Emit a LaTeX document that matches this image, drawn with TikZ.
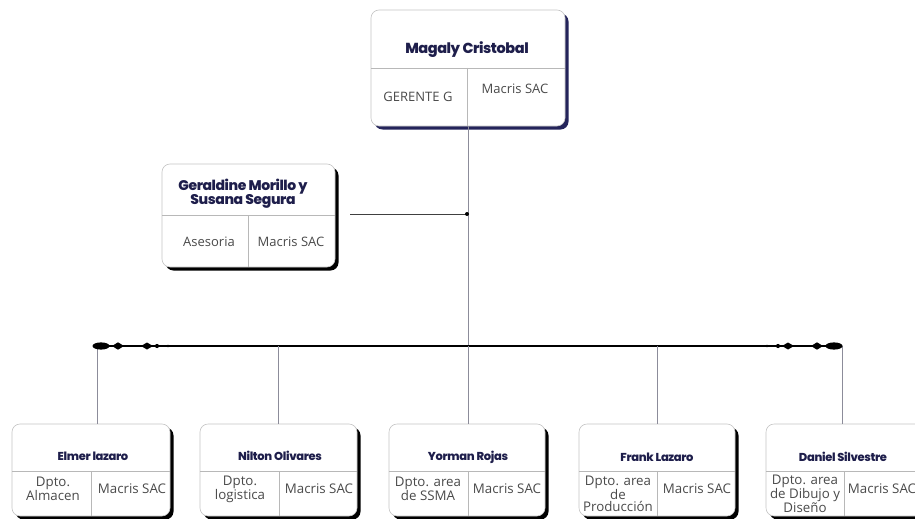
\documentclass[tikz,border=0pt]{standalone}
\usepackage{fontspec}
\usetikzlibrary{shadows,shapes.geometric}
\newfontfamily\titlefont{Poppins}[BoldFont={Poppins ExtraBold}, LetterSpace=-3]
\newfontfamily\subfont{Open Sans}
\definecolor{navy}{HTML}{1E1E4B}
\definecolor{navyshadow}{HTML}{24245A}
\definecolor{subtxt}{HTML}{4A4A4A}
\definecolor{boxline}{HTML}{C4C4C4}
\definecolor{divc}{HTML}{B8B8B8}
\definecolor{connc}{HTML}{8C8C9A}
\tikzset{
  obox/.style={draw=boxline, line width=0.6pt, rounded corners=8pt, fill=white,
    inner sep=0pt, outer sep=0pt, anchor=north west,
    drop shadow={shadow xshift=3.5pt, shadow yshift=-3.5pt, fill=#1, opacity=1}},
  obox/.default=black,
  divl/.style={draw=divc, line width=0.6pt},
  ttl/.style={text=navy, inner sep=0pt, align=center, font={\titlefont\bfseries\fontsize{#1}{#1}\selectfont}},
  ttl/.default=11.5,
  sub/.style={text=subtxt, inner sep=0pt, align=center, font={\subfont\fontsize{13.3}{12.3}\selectfont}},
  subbig/.style={text=subtxt, inner sep=0pt, align=center, font={\subfont\fontsize{13}{13}\selectfont}},
  conn/.style={draw=connc, line width=0.8pt},
  bus/.style={draw=black, line width=1.3pt},
  orn/.style={fill=black, draw=none},
}
\begin{document}
\begin{tikzpicture}[x=1pt,y=-1pt]
\useasboundingbox (0,0) rectangle (915,519);
% ---------- top box
\node[obox=navyshadow, minimum width=194pt, minimum height=116pt] (top) at (371,10) {};
\draw[divl] (top.west |- 0,68) -- (top.east |- 0,68);
\draw[divl] (467,68) -- (467,126);
\node[ttl=14.5] (topt) at (467,50) {Magaly Cristobal};
\node[subbig] (topl) at (418,97) {GERENTE G};
\node[subbig] (topr) at (515,89) {Macris SAC};
% ---------- Geraldine box
\node[obox, minimum width=173pt, minimum height=103pt] (ger) at (162,164) {};
\draw[divl] (ger.west |- 0,215) -- (ger.east |- 0,215);
\draw[divl] (248,215) -- (248,267);
\node[ttl=14] (gert) at (243,194) {Geraldine Morillo y\\[0pt]Susana Segura};
\node[subbig] (gerl) at (209,242) {Asesoria};
\node[subbig] (gerr) at (291,242) {Macris SAC};
% ---------- bottom boxes
\node[obox, minimum width=158pt, minimum height=92pt] (b1) at (12,424) {};
\node[obox, minimum width=157pt, minimum height=92pt] (b2) at (200,424) {};
\node[obox, minimum width=156pt, minimum height=92pt] (b3) at (389,424) {};
\node[obox, minimum width=156pt, minimum height=92pt] (b4) at (579,424) {};
\node[obox, minimum width=157pt, minimum height=92pt] (b5) at (766,424) {};
\foreach \b/\d in {b1/91,b2/279,b3/468,b4/657,b5/844}{
  \draw[divl] (\b.west |- 0,471) -- (\b.east |- 0,471);
  \draw[divl] (\d,471) -- (\d,516);
}
\node[ttl] (t1) at (93,456) {Elmer lazaro};
\node[ttl] (t2) at (280,456) {Nilton Olivares};
\node[ttl] (t3) at (468,457) {Yorman Rojas};
\node[ttl] (t4) at (657,457) {Frank Lazaro};
\node[ttl] (t5) at (843,457) {Daniel Silvestre};
\node[sub] (l1) at (53,489) {Dpto.\\Almacen};
\node[sub] (r1) at (132,489) {Macris SAC};
\node[sub] (l2) at (240,489) {Dpto.\\logistica};
\node[sub] (r2) at (319,489) {Macris SAC};
\node[sub] (l3) at (428,489) {Dpto. area\\de SSMA};
\node[sub] (r3) at (507,489) {Macris SAC};
\node[sub] (l4) at (618,494) {Dpto. area\\de\\Producción};
\node[sub] (r4) at (697,489) {Macris SAC};
\node[sub] (l5) at (805,494) {Dpto. area\\de Dibujo y\\Diseño};
\node[sub] (r5) at (882,489) {Macris SAC};
% ---------- connectors
\coordinate (jB) at (468,346);
\coordinate (jG) at (467,214);
\coordinate (busL) at (95,346);
\coordinate (busR) at (840,346);
\draw[conn] (top.south) -- (jB);
\draw[draw=black!75, line width=0.8pt] ([xshift=15pt,yshift=1.5pt]ger.east) -- (jG);
\fill[black] (jG) circle (2pt);
\draw[bus] (busL) -- (busR);
\draw[conn] (busL) ++(2,0) coordinate (c1) -- (c1 |- b1.north);
\draw[conn] (b2.north |- jB) -- (b2.north);
\draw[conn] (jB) -- (jB |- b3.north);
\draw[conn] (b4.north |- jB) -- (b4.north);
\draw[conn] (busR) ++(2,0) coordinate (c5) -- (c5 |- b5.north);
% ---------- ornaments
\foreach \s/\c in {1/0, -1/935}{
  \begin{scope}[shift={(\c,0)}, xscale=\s]
    \fill[orn] (101,346) ellipse [x radius=8.5, y radius=3.6];
    \fill[orn] (112,346) -- (118,342.3) -- (124,346) -- (118,349.7) -- cycle;
    \fill[orn] (124,344.8) rectangle (141,347.2);
    \fill[orn] (141,346) -- (147,342.5) -- (153,346) -- (147,349.5) -- cycle;
    \fill[orn] (157,346) circle (2.1);
    \fill[orn] (168,346) circle (1.4);
  \end{scope}
}
\end{tikzpicture}
\end{document}
